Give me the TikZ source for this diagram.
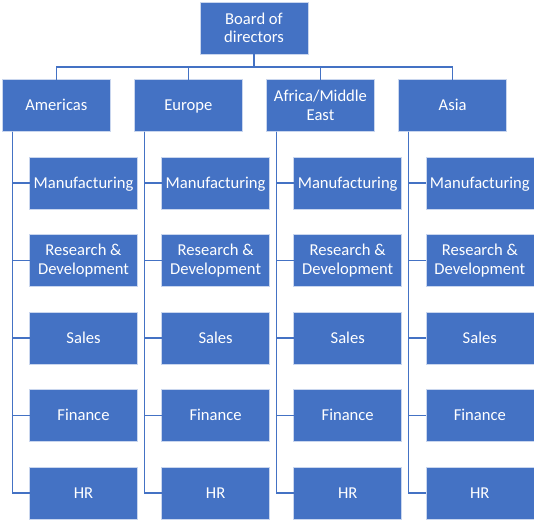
\documentclass[tikz,border=0pt]{standalone}
\usepackage{fontspec}
\setmainfont{Carlito}
\definecolor{obl}{HTML}{4472C4}
\definecolor{oedge}{HTML}{C9D6EE}
\newcommand{\oneline}[1]{\raisebox{0pt}[10pt][0pt]{#1}}
\begin{document}
\begin{tikzpicture}[x=1pt,y=-1pt,
 box/.style={fill=obl, draw=oedge, line width=0.6pt, minimum width=108pt, minimum height=52pt, inner sep=0pt, outer sep=0pt, align=center, text=white, font=\fontsize{16.6}{18.5}\selectfont},
 conn/.style={draw=obl, line width=1.5pt}]
\useasboundingbox (0,0) rectangle (534,519);
\node[box] (board) at (254,28) {Board of\\directors};
\coordinate (bus) at (254,67);
\node[box] (r1) at (56.3,105.5) {\oneline{Americas}};
\node[box] (r2) at (188.4,105.5) {\oneline{Europe}};
\node[box] (r3) at (320.5,105.5) {Africa/Middle\\East};
\node[box] (r4) at (452.6,105.5) {\oneline{Asia}};
\draw[conn] (board.south) -- (bus);
\draw[conn] (r1.north) |- (bus) -| (r4.north);
\draw[conn] (bus) -| (r2.north);
\draw[conn] (bus) -| (r3.north);
\foreach \i in {1,...,4}{
 \pgfmathsetmacro\rx{56.3+132.1*(\i-1)+27.2}
 \foreach \k/\t in {1/\oneline{Manufacturing}, 2/{Research \&\\Development}, 3/\oneline{Sales}, 4/\oneline{Finance}, 5/\oneline{HR}}{
  \pgfmathsetmacro\cy{183+77.5*(\k-1)}
  \node[box] (c\i-\k) at (\rx,\cy) {\t};
  \draw[conn] ([xshift=-44pt]r\i.south) |- (c\i-\k.west);
 }
}
\end{tikzpicture}
\end{document}
